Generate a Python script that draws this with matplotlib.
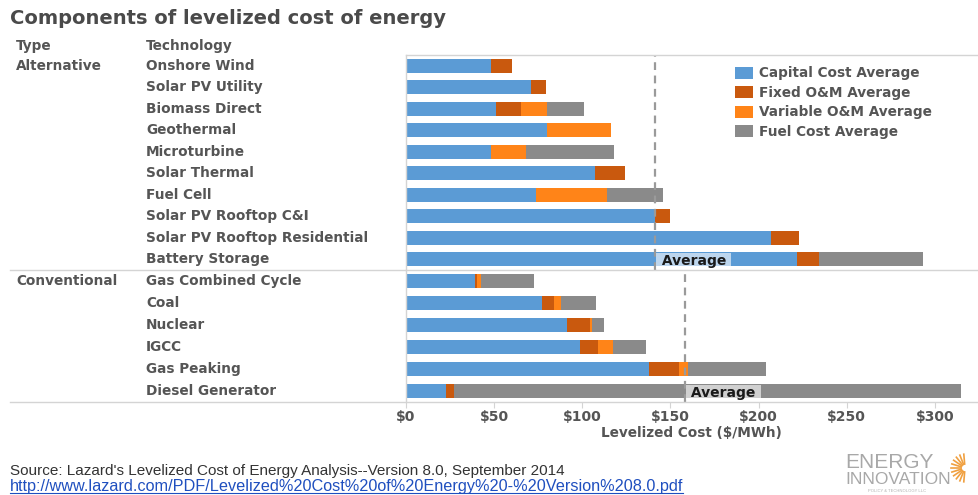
import matplotlib
matplotlib.use("Agg")
import matplotlib.pyplot as plt
import matplotlib.transforms as mtransforms
from matplotlib.lines import Line2D
from matplotlib.patches import Patch
import numpy as np

# ---------------- data ----------------
alt_tech = ["Onshore Wind", "Solar PV Utility", "Biomass Direct", "Geothermal",
            "Microturbine", "Solar Thermal", "Fuel Cell", "Solar PV Rooftop C&I",
            "Solar PV Rooftop Residential", "Battery Storage"]
alt_capital = [48, 71, 51, 80, 48, 107, 74, 141, 207, 222]
alt_fixed = [12, 8.5, 14, 0, 0, 17, 0, 9, 16, 12]
alt_variable = [0, 0, 15, 36, 20, 0, 40, 0, 0, 0]
alt_fuel = [0, 0, 21, 0, 50, 0, 32, 0, 0, 59.5]

conv_tech = ["Gas Combined Cycle", "Coal", "Nuclear", "IGCC", "Gas Peaking",
             "Diesel Generator"]
conv_capital = [39, 77, 91.3, 98.7, 138, 22.7]
conv_fixed = [1.2, 7, 13.2, 10.2, 16.7, 4.5]
conv_variable = [2.6, 4.2, 1.2, 8.7, 5, 0]
conv_fuel = [30, 19.7, 6.6, 18.7, 44.5, 287.5]

types = ["Alternative", "Conventional"]
series_names = ["Capital Cost Average", "Fixed O&M Average",
                "Variable O&M Average", "Fuel Cost Average"]
xticks = [0, 50, 100, 150, 200, 250, 300]
xtick_labels = ["$0", "$50", "$100", "$150", "$200", "$250", "$300"]

# ---------------- style ----------------
colors = ["#5b9bd5", "#c9590e", "#ff8418", "#8a8a8a"]
txt = "#555555"
linec = "#d4d4d4"
W, H = 979, 495

def fx(px):
    return px / W

def fy(py):
    return 1 - py / H

fig = plt.figure(figsize=(W / 100, H / 100), dpi=100)
fig.patch.set_facecolor("white")

x_left, x_right = 406, 977
xmax = (x_right - x_left) / 1.763

ax1 = fig.add_axes([fx(x_left), fy(270), fx(x_right) - fx(x_left), (270 - 55) / H])
ax2 = fig.add_axes([fx(x_left), fy(402), fx(x_right) - fx(x_left), (402 - 270) / H])

groups = [
    (ax1, alt_tech, [alt_capital, alt_fixed, alt_variable, alt_fuel], types[0]),
    (ax2, conv_tech, [conv_capital, conv_fixed, conv_variable, conv_fuel], types[1]),
]

for ax, techs, vals, tname in groups:
    n = len(techs)
    y = np.arange(n)
    left = np.zeros(n)
    for v, c in zip(vals, colors):
        v = np.asarray(v, dtype=float)
        ax.barh(y, v, left=left, height=0.66, color=c, edgecolor="none", zorder=2)
        left = left + v
    avg = left.mean()
    ax.axvline(avg, color="#9a9a9a", lw=1.6, ls=(0, (3.5, 2.5)), zorder=3)
    ax.text(avg + 1, n - 1 + 0.08, " Average ", ha="left", va="center",
            fontsize=10, fontweight="bold", color="#1a1a1a", zorder=4,
            bbox=dict(boxstyle="square,pad=0.05", fc="white", ec="none", alpha=0.6))
    ax.set_xlim(0, xmax)
    ax.set_ylim(n - 0.5, -0.5)
    ax.set_yticks([])
    for s in ["top", "right", "bottom"]:
        ax.spines[s].set_visible(False)
    ax.spines["left"].set_color(linec)
    ax.spines["left"].set_linewidth(1)
    tr = mtransforms.blended_transform_factory(fig.transFigure, ax.transData)
    for i, t in enumerate(techs):
        fig.text(fx(146), i, t, transform=tr, ha="left", va="center",
                 fontsize=9.8, fontweight="bold", color=txt)
    fig.text(fx(16), 0, tname, transform=tr, ha="left", va="center",
             fontsize=9.8, fontweight="bold", color=txt)

ax1.set_xticks([])
ax2.set_xticks(xticks)
ax2.set_xticklabels(xtick_labels, fontsize=10, fontweight="bold", color=txt)
ax2.tick_params(axis="x", length=4, color=linec, pad=2)
ax2.set_xlabel("Levelized Cost ($/MWh)", fontsize=9.8, fontweight="bold",
               color=txt, labelpad=1)

# frame lines
fig.add_artist(Line2D([fx(x_left), 1], [fy(55), fy(55)], transform=fig.transFigure,
                      color=linec, lw=1))
fig.add_artist(Line2D([fx(10), 1], [fy(270), fy(270)], transform=fig.transFigure,
                      color=linec, lw=1))
fig.add_artist(Line2D([fx(10), 1], [fy(402), fy(402)], transform=fig.transFigure,
                      color=linec, lw=1))

# title & headers
fig.text(fx(10), fy(18), "Components of levelized cost of energy", ha="left",
         va="center", fontsize=14, fontweight="bold", color="#4a4a4a")
fig.text(fx(16), fy(46), "Type", ha="left", va="center", fontsize=9.8,
         fontweight="bold", color=txt)
fig.text(fx(146), fy(46), "Technology", ha="left", va="center", fontsize=9.8,
         fontweight="bold", color=txt)

# legend
handles = [Patch(facecolor=c, edgecolor="none") for c in colors]
fig.legend(handles, series_names, loc="upper left",
           bbox_to_anchor=(fx(730), fy(61)), frameon=False,
           prop=dict(size=9.8, weight="bold"), labelcolor=txt,
           handlelength=1.3, handleheight=1.0, handletextpad=0.45,
           labelspacing=0.4, borderaxespad=0)

# source
fig.text(fx(10), fy(471), "Source: Lazard's Levelized Cost of Energy Analysis--Version 8.0, September 2014",
         ha="left", va="center", fontsize=11, family="Liberation Sans", color="#333333")
link = fig.text(fx(10), fy(486.5), "http://www.lazard.com/PDF/Levelized%20Cost%20of%20Energy%20-%20Version%208.0.pdf",
                ha="left", va="center", fontsize=11.7, family="Liberation Sans", color="#1f4fbf")
fig.canvas.draw()
bb = link.get_window_extent().transformed(fig.transFigure.inverted())
fig.add_artist(Line2D([bb.x0, bb.x1], [fy(493), fy(493)], transform=fig.transFigure,
                      color="#1f4fbf", lw=0.8))

# logo
fig.text(fx(845), fy(462), "ENERGY", ha="left", va="center", fontsize=15,
         family="Liberation Sans", color="#a8a8a8")
fig.text(fx(845), fy(480), "INNOVATION", ha="left", va="center", fontsize=12.5,
         family="Liberation Sans", color="#a8a8a8")
fig.text(fx(868), fy(491), "POLICY & TECHNOLOGY LLC", ha="left", va="center",
         fontsize=3, family="Liberation Sans", color="#b0b0b0")
cx, cy = fx(965), fy(468)
for a in np.linspace(95, 265, 11):
    r = np.deg2rad(a)
    fig.add_artist(Line2D([cx + 0.004 * np.cos(r), cx + 0.014 * np.cos(r)],
                          [cy + 0.008 * np.sin(r), cy + 0.028 * np.sin(r)],
                          transform=fig.transFigure, color="#f0a040", lw=1.2))

fig.savefig("out.png", dpi=100, facecolor="white")
